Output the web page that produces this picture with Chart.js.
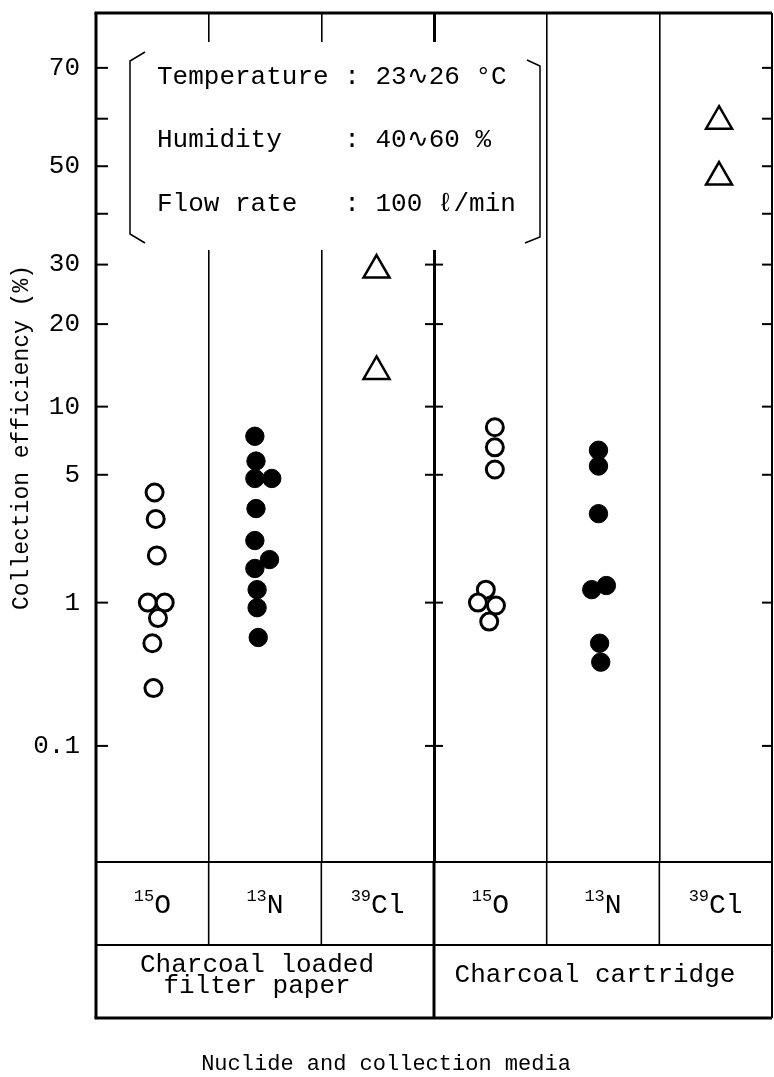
<!DOCTYPE html>
<html>
<head>
<meta charset="utf-8">
<title>Collection efficiency by nuclide and collection media</title>
<script src="https://cdn.jsdelivr.net/npm/chart.js@4.4.1/dist/chart.umd.min.js"></script>
<style>
  html, body { margin: 0; padding: 0; background: #fff; }
  #wrap { width: 774px; height: 1077px; }
</style>
</head>
<body>
<div id="wrap"><canvas id="chart" width="774" height="1077"></canvas></div>
<script>
// Collection efficiency of 15O, 13N and 39Cl on two charcoal media.
// The y axis is a normal-probability scale, so it gets a small Chart.js scale
// of its own; everything else is a plain scatter over six columns.

const FONT = "'Liberation Mono', 'Courier New', monospace";

// y ticks (percent); only some of them carry a label
const Y_TICKS = [70, 60, 50, 40, 30, 20, 10, 5, 1, 0.1];
const Y_LABELS = [70, 50, 30, 20, 10, 5, 1, 0.1];
const Y_MIN = 0.0104;
const Y_MAX = 79.3;

// bottom table: nuclide per column, then the medium under each group of three
const NUCLIDE_MASS = ['15', '13', '39', '15', '13', '39'];
const NUCLIDE_SYMBOL = ['O', 'N', 'Cl', 'O', 'N', 'Cl'];
const MEDIA = [['Charcoal loaded', 'filter paper'], ['Charcoal cartridge']];

const CONDITIONS = [
  ['Temperature', '23∿26 °C'],
  ['Humidity', '40∿60 %'],
  ['Flow rate', '100 ℓ/min'],
];

// measured efficiencies (%), and where each mark sits across its column (0..1)
const O15_PAPER = [4.1, 3.0, 1.9, 1.0, 1.0, 0.8, 0.55, 0.27];
const O15_PAPER_POS = [0.52, 0.53, 0.54, 0.46, 0.61, 0.55, 0.50, 0.51];
const N13_PAPER = [7.5, 5.8, 4.8, 4.8, 3.4, 2.3, 1.8, 1.6, 1.2, 0.93, 0.6];
const N13_PAPER_POS = [0.41, 0.42, 0.41, 0.56, 0.42, 0.41, 0.54, 0.41, 0.43, 0.43, 0.44];
const CL39_PAPER = [29, 13.7];
const CL39_PAPER_POS = [0.49, 0.49];
const O15_CART = [8.2, 6.7, 5.3, 1.2, 1.0, 0.96, 0.76];
const O15_CART_POS = [0.54, 0.54, 0.54, 0.46, 0.39, 0.55, 0.49];
const N13_CART = [6.5, 5.5, 3.2, 1.2, 1.27, 0.55, 0.41];
const N13_CART_POS = [0.46, 0.46, 0.46, 0.40, 0.53, 0.47, 0.48];
const CL39_CART = [59.5, 47.7];
const CL39_CART_POS = [0.53, 0.53];

// inverse normal CDF (Acklam) and the normal CDF, for the probability axis
function probit(p) {
  const a = [-39.69683028665376, 220.9460984245205, -275.9285104469687, 138.3577518672690, -30.66479806614716, 2.506628277459239];
  const b = [-54.47609879822406, 161.5858368580409, -155.6989798598866, 66.80131188771972, -13.28068155288572];
  const c = [-0.007784894002430293, -0.3223964580411365, -2.400758277161838, -2.549732539343734, 4.374664141464968, 2.938163982698783];
  const d = [0.007784695709041462, 0.3224671290700398, 2.445134137142996, 3.754408661907416];
  const lo = 0.02425;
  if (p < lo) {
    const q = Math.sqrt(-2 * Math.log(p));
    return (((((c[0] * q + c[1]) * q + c[2]) * q + c[3]) * q + c[4]) * q + c[5]) / ((((d[0] * q + d[1]) * q + d[2]) * q + d[3]) * q + 1);
  }
  if (p <= 1 - lo) {
    const q = p - 0.5, r = q * q;
    return (((((a[0] * r + a[1]) * r + a[2]) * r + a[3]) * r + a[4]) * r + a[5]) * q / (((((b[0] * r + b[1]) * r + b[2]) * r + b[3]) * r + b[4]) * r + 1);
  }
  const q = Math.sqrt(-2 * Math.log(1 - p));
  return -(((((c[0] * q + c[1]) * q + c[2]) * q + c[3]) * q + c[4]) * q + c[5]) / ((((d[0] * q + d[1]) * q + d[2]) * q + d[3]) * q + 1);
}

function normCdf(z) {
  const t = 1 / (1 + 0.3275911 * Math.abs(z) / Math.SQRT2);
  const e = 1 - (((((1.061405429 * t - 1.453152027) * t) + 1.421413741) * t - 0.284496736) * t + 0.254829592) * t * Math.exp(-z * z / 2);
  return z >= 0 ? (1 + e) / 2 : (1 - e) / 2;
}

class ProbitScale extends Chart.Scale {
  static id = 'probit';
  static defaults = {};

  parse(raw) {
    const v = +raw;
    return isFinite(v) && v > 0 && v < 100 ? v : null;
  }

  determineDataLimits() {
    const { min, max } = this.getMinMax(true);
    this.min = min;
    this.max = max;
  }

  buildTicks() {
    return Y_TICKS.map((v) => ({ value: v }));
  }

  configure() {
    super.configure();
    this._zStart = probit(this.min / 100);
    this._zRange = probit(this.max / 100) - this._zStart;
  }

  getPixelForValue(v) {
    return this.getPixelForDecimal((probit(v / 100) - this._zStart) / this._zRange);
  }

  getValueForPixel(px) {
    return 100 * normCdf(this._zStart + this.getDecimalForPixel(px) * this._zRange);
  }
}
Chart.register(ProbitScale);

const pts = (col, vals, pos) => vals.map((v, i) => ({ x: col + pos[i], y: v }));

const OPEN = { pointStyle: 'circle', pointRadius: 8.5, pointBorderWidth: 3, pointBackgroundColor: '#fff', pointBorderColor: '#000' };
const FILLED = { pointStyle: 'circle', pointRadius: 9.2, pointBorderWidth: 1, pointBackgroundColor: '#000', pointBorderColor: '#000' };
const TRIANGLE = { pointStyle: 'triangle', pointRadius: 15, pointBorderWidth: 2.5, pointBackgroundColor: 'rgba(0,0,0,0)', pointBorderColor: '#000' };

const framePlugin = {
  id: 'frame',
  beforeDatasetsDraw(chart) {
    const { ctx, chartArea: a } = chart;
    ctx.save();
    // the conditions box sits over the column rules
    ctx.fillStyle = '#fff';
    ctx.fillRect(a.left + 22, 42, 425, 208);
    ctx.strokeStyle = '#000';
    ctx.lineWidth = 1.5;
    ctx.beginPath();
    ctx.moveTo(145, 52); ctx.lineTo(130, 61); ctx.lineTo(130, 234); ctx.lineTo(145, 243);
    ctx.moveTo(527, 60); ctx.lineTo(540, 66); ctx.lineTo(540, 237); ctx.lineTo(525, 243);
    ctx.stroke();
    ctx.fillStyle = '#000';
    ctx.font = `26px ${FONT}`;
    ctx.textBaseline = 'middle';
    CONDITIONS.forEach(([k, v], i) => ctx.fillText(k.padEnd(12) + ': ' + v, 157, 77 + i * 63.5));
    ctx.restore();
  },
  afterDraw(chart) {
    const { ctx, chartArea: a, scales: { x, y } } = chart;
    const tableTop = a.bottom, rowSplit = a.bottom + 83, tableBottom = a.bottom + 156;
    const mid = x.getPixelForValue(3);
    const line = (x1, y1, x2, y2, w) => {
      ctx.lineWidth = w;
      ctx.beginPath(); ctx.moveTo(x1, y1); ctx.lineTo(x2, y2); ctx.stroke();
    };
    ctx.save();
    ctx.strokeStyle = '#000';
    // tick marks: inside both edges, and crossing the middle rule from 30 % down
    y.ticks.forEach((t) => {
      const py = y.getPixelForValue(t.value);
      line(a.left, py, a.left + 12, py, 2);
      line(a.right - 10, py, a.right, py, 2);
      if (t.value <= 30) line(mid - 9, py, mid + 9, py, 2);
    });
    // outer frame and table rules
    line(a.left - 1.5, a.top, a.right, a.top, 3);
    line(a.left, a.top, a.left, tableBottom, 3);
    line(a.right, a.top, a.right, tableBottom, 2);
    line(a.left, tableTop, a.right, tableTop, 2);
    line(a.left, rowSplit, a.right, rowSplit, 2);
    line(a.left - 1.5, tableBottom, a.right, tableBottom, 3);
    for (let i = 1; i < 6; i++) {
      const px = x.getPixelForValue(i);
      line(px, tableTop, px, rowSplit, i === 3 ? 3 : 1.6);
    }
    line(mid, rowSplit, mid, tableBottom, 3);

    // nuclide row: mass number raised and smaller
    ctx.fillStyle = '#000';
    ctx.textBaseline = 'alphabetic';
    NUCLIDE_SYMBOL.forEach((sym, i) => {
      const cx = x.getPixelForValue(i + 0.5);
      ctx.font = `17px ${FONT}`;
      const ws = ctx.measureText(NUCLIDE_MASS[i]).width;
      ctx.font = `28px ${FONT}`;
      const wm = ctx.measureText(sym).width;
      const x0 = cx - (ws + wm) / 2;
      ctx.font = `17px ${FONT}`;
      ctx.fillText(NUCLIDE_MASS[i], x0, tableTop + 39);
      ctx.font = `28px ${FONT}`;
      ctx.fillText(sym, x0 + ws, tableTop + 51);
    });

    // media row
    ctx.font = `26px ${FONT}`;
    ctx.textAlign = 'center';
    MEDIA.forEach((lines, g) => {
      const cx = x.getPixelForValue(g * 3 + 1.5) - 8;
      const y0 = rowSplit + 37 - (lines.length - 1) * 10.5;
      lines.forEach((s, k) => ctx.fillText(s, cx, y0 + k * 21));
    });
    ctx.restore();
  },
};

new Chart(document.getElementById('chart'), {
  type: 'scatter',
  data: {
    datasets: [
      { label: '15O filter paper', data: pts(0, O15_PAPER, O15_PAPER_POS), ...OPEN },
      { label: '13N filter paper', data: pts(1, N13_PAPER, N13_PAPER_POS), ...FILLED },
      { label: '39Cl filter paper', data: pts(2, CL39_PAPER, CL39_PAPER_POS), ...TRIANGLE },
      { label: '15O cartridge', data: pts(3, O15_CART, O15_CART_POS), ...OPEN },
      { label: '13N cartridge', data: pts(4, N13_CART, N13_CART_POS), ...FILLED },
      { label: '39Cl cartridge', data: pts(5, CL39_CART, CL39_CART_POS), ...TRIANGLE },
    ],
  },
  options: {
    responsive: false,
    animation: false,
    events: [],
    layout: { autoPadding: false, padding: { top: 13, right: 2, left: 0, bottom: 0 } },
    plugins: {
      legend: { display: false },
      tooltip: { enabled: false },
      title: {
        display: true,
        position: 'bottom',
        text: 'Nuclide and collection media',
        color: '#000',
        font: { family: FONT, size: 22, weight: 'normal', lineHeight: 1.2 },
        padding: { top: 32.6, bottom: 0 },
      },
    },
    scales: {
      x: {
        type: 'linear',
        min: 0,
        max: 6,
        ticks: { display: false, stepSize: 1 },
        border: { display: false },
        grid: {
          color: '#000',
          drawTicks: false,
          lineWidth: (c) => {
            if (!c.tick) return 0;
            const v = c.tick.value;
            if (v === 0 || v === 6) return 0;
            return v === 3 ? 3 : 1.6;
          },
        },
        afterFit: (s) => {
          s.height = 156;
          s.paddingLeft = 0;
          s.paddingRight = 0;
        },
      },
      y: {
        type: 'probit',
        min: Y_MIN,
        max: Y_MAX,
        grid: { display: false },
        border: { display: false },
        ticks: {
          color: '#000',
          padding: 8,
          autoSkip: false,
          font: { family: FONT, size: 26 },
          callback: (v) => (Y_LABELS.includes(v) ? String(v) : ''),
        },
        title: {
          display: true,
          text: 'Collection efficiency (%)',
          color: '#000',
          font: { family: FONT, size: 23 },
          padding: { top: 8, bottom: 0 },
        },
        afterFit: (s) => {
          s.width = 96;
          // labels may overhang the plot edge; keep the frame where it is
          s.paddingTop = 0;
          s.paddingBottom = 0;
        },
      },
    },
  },
  plugins: [framePlugin],
});
</script>
</body>
</html>
